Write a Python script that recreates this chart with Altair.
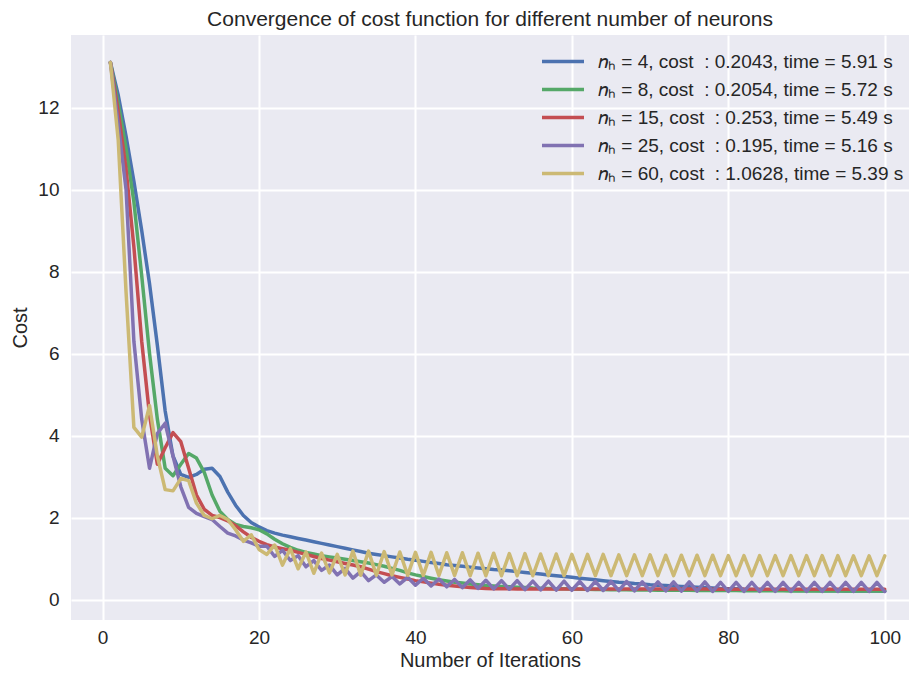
import altair as alt
import pandas as pd

iterations = list(range(1, 101))

cost_n4 = [13.1, 12.3, 11.3, 10.2, 9.0, 7.7, 6.2, 4.6, 3.5, 3.05,
           2.98, 3.05, 3.18, 3.2, 3.0, 2.62, 2.3, 2.05, 1.88, 1.77,
           1.68, 1.62, 1.57, 1.53, 1.49, 1.45, 1.41, 1.37, 1.33, 1.29,
           1.25, 1.21, 1.17, 1.13, 1.1, 1.07, 1.04, 1.01, 0.98, 0.96,
           0.93, 0.9, 0.88, 0.85, 0.83, 0.81, 0.79, 0.77, 0.75, 0.73,
           0.72, 0.7, 0.68, 0.66, 0.64, 0.62, 0.6, 0.58, 0.56, 0.54,
           0.52, 0.5, 0.48, 0.46, 0.44, 0.42, 0.41, 0.39, 0.38, 0.36,
           0.35, 0.34, 0.33, 0.32, 0.31, 0.3, 0.29, 0.28, 0.27, 0.265,
           0.26, 0.25, 0.245, 0.24, 0.235, 0.23, 0.228, 0.225, 0.222, 0.22,
           0.218, 0.216, 0.214, 0.212, 0.21, 0.209, 0.208, 0.207, 0.206, 0.2043]

cost_n8 = [13.1, 12.1, 11.0, 9.7, 7.9, 6.0, 4.4, 3.2, 3.02, 3.3,
           3.56, 3.45, 3.1, 2.55, 2.15, 1.95, 1.83, 1.78, 1.75, 1.7,
           1.6, 1.47, 1.36, 1.27, 1.2, 1.15, 1.11, 1.07, 1.04, 1.01,
           0.98, 0.95, 0.92, 0.89, 0.85, 0.81, 0.76, 0.71, 0.65, 0.6,
           0.56, 0.52, 0.48, 0.45, 0.42, 0.4, 0.38, 0.36, 0.34, 0.33,
           0.32, 0.31, 0.3, 0.29, 0.28, 0.275, 0.27, 0.265, 0.26, 0.255,
           0.25, 0.248, 0.245, 0.243, 0.24, 0.238, 0.236, 0.234, 0.232, 0.23,
           0.228, 0.226, 0.225, 0.224, 0.223, 0.222, 0.221, 0.22, 0.219, 0.218,
           0.217, 0.216, 0.215, 0.214, 0.213, 0.212, 0.211, 0.21, 0.21, 0.209,
           0.209, 0.208, 0.208, 0.207, 0.207, 0.206, 0.206, 0.206, 0.205, 0.2054]

cost_n15 = [13.1, 11.9, 10.5, 8.6, 6.3, 4.5, 3.3, 3.7, 4.07, 3.85,
            3.2, 2.55, 2.2, 2.05, 2.0, 1.92, 1.8, 1.65, 1.52, 1.42,
            1.34, 1.28, 1.24, 1.2, 1.15, 1.1, 1.05, 1.0, 0.96, 0.92,
            0.88, 0.84, 0.8, 0.74, 0.68, 0.63, 0.58, 0.54, 0.5, 0.46,
            0.43, 0.4, 0.37, 0.35, 0.33, 0.31, 0.29, 0.28, 0.27, 0.265,
            0.262, 0.26, 0.259, 0.258, 0.258, 0.257, 0.257, 0.256, 0.256, 0.256,
            0.256, 0.255, 0.255, 0.255, 0.255, 0.255, 0.255, 0.254, 0.254, 0.254,
            0.254, 0.254, 0.254, 0.254, 0.254, 0.254, 0.254, 0.253, 0.253, 0.253,
            0.253, 0.253, 0.253, 0.253, 0.253, 0.253, 0.253, 0.253, 0.253, 0.253,
            0.253, 0.253, 0.253, 0.253, 0.253, 0.253, 0.253, 0.253, 0.253, 0.253]

cost_n25 = [13.1, 11.6, 10.0, 6.3, 4.4, 3.2, 4.05, 4.3, 3.5, 2.75,
            2.25, 2.1, 2.02, 1.95, 1.78, 1.62, 1.55, 1.45, 1.38, 1.3,
            1.3, 1.05, 1.2, 0.95, 1.07, 0.8, 0.95, 0.71, 0.84, 0.6,
            0.76, 0.52, 0.68, 0.46, 0.6, 0.42, 0.56, 0.38, 0.54, 0.35,
            0.52, 0.33, 0.5, 0.31, 0.49, 0.29, 0.48, 0.27, 0.47, 0.26,
            0.46, 0.25, 0.46, 0.24, 0.45, 0.235, 0.45, 0.23, 0.45, 0.225,
            0.44, 0.22, 0.44, 0.22, 0.44, 0.215, 0.44, 0.21, 0.43, 0.21,
            0.43, 0.21, 0.43, 0.205, 0.43, 0.205, 0.43, 0.2, 0.42, 0.2,
            0.42, 0.2, 0.42, 0.2, 0.42, 0.2, 0.42, 0.198, 0.42, 0.198,
            0.42, 0.197, 0.42, 0.197, 0.42, 0.196, 0.42, 0.196, 0.42, 0.195]

cost_n60 = [13.1, 11.2, 7.5, 4.2, 3.96, 4.73, 3.5, 2.68, 2.65, 2.95,
            2.9, 2.35, 2.05, 1.97, 2.05, 1.95, 1.7, 1.42, 1.58, 1.22,
            1.1, 1.33, 0.84, 1.24, 0.75, 1.16, 0.64, 1.13, 0.65, 1.1,
            0.6, 1.18, 0.59, 1.18, 0.59, 1.17, 0.6, 1.16, 0.59, 1.15,
            0.59, 1.15, 0.59, 1.14, 0.59, 1.14, 0.58, 1.13, 0.58, 1.13,
            0.58, 1.12, 0.58, 1.12, 0.58, 1.11, 0.58, 1.11, 0.58, 1.1,
            0.58, 1.1, 0.58, 1.1, 0.58, 1.09, 0.58, 1.09, 0.58, 1.09,
            0.58, 1.08, 0.58, 1.08, 0.58, 1.08, 0.58, 1.08, 0.58, 1.07,
            0.58, 1.07, 0.58, 1.07, 0.58, 1.07, 0.58, 1.07, 0.58, 1.07,
            0.58, 1.07, 0.58, 1.07, 0.58, 1.065, 0.58, 1.065, 0.58, 1.0628]

NB = "\u00a0"
series_labels = [
    f"𝑛ₕ = 4, cost{NB} : 0.2043, time = 5.91 s",
    f"𝑛ₕ = 8, cost{NB} : 0.2054, time = 5.72 s",
    f"𝑛ₕ = 15, cost{NB} : 0.253, time = 5.49 s",
    f"𝑛ₕ = 25, cost{NB} : 0.195, time = 5.16 s",
    f"𝑛ₕ = 60, cost{NB} : 1.0628, time = 5.39 s",
]
series_colors = ["#4C72B0", "#55A868", "#C44E52", "#8172B2", "#CCB974"]
all_costs = [cost_n4, cost_n8, cost_n15, cost_n25, cost_n60]

rows = []
for lab, vals in zip(series_labels, all_costs):
    for it, v in zip(iterations, vals):
        rows.append({"iteration": it, "cost": v, "series": lab})
df = pd.DataFrame(rows)

FONT = "Liberation Sans"
TXT = "#262626"

color_scale = alt.Scale(domain=series_labels, range=series_colors)
legend = alt.Legend(
    title=None, orient="none", legendX=469, legendY=17,
    symbolType="stroke", symbolSize=1764, symbolStrokeWidth=3.5,
    labelFontSize=19, labelFont=FONT, labelColor=TXT, labelLimit=500,
    clipHeight=19, rowPadding=8.0, labelOffset=12, padding=0,
)

x_enc = alt.X("iteration:Q",
              scale=alt.Scale(domain=[-4.04, 103.1], nice=False, zero=False),
              axis=alt.Axis(values=[0, 20, 40, 60, 80, 100], title="Number of Iterations",
                            labelPadding=8, titlePadding=3))
y_enc = alt.Y("cost:Q",
              scale=alt.Scale(domain=[-0.5, 13.77], nice=False, zero=False),
              axis=alt.Axis(values=[0, 2, 4, 6, 8, 10, 12], title="Cost",
                            labelPadding=12, titlePadding=7))

layers = []
for lab in series_labels:
    layers.append(
        alt.Chart(df).transform_filter(alt.datum.series == lab)
        .mark_line(strokeWidth=3.5, strokeCap="round", strokeJoin="round")
        .encode(x=x_enc, y=y_enc,
                color=alt.Color("series:N", scale=color_scale, legend=legend))
    )

chart = alt.layer(*layers).properties(
    width=838, height=585,
    title=alt.TitleParams("Convergence of cost function for different number of neurons",
                          fontSize=21, font=FONT, fontWeight="normal", color=TXT,
                          anchor="middle", offset=5),
    autosize=alt.AutoSizeParams(type="none"),
    padding={"left": 63, "top": 27, "right": 1, "bottom": 57},
).configure(
    background="white"
).configure_view(
    fill="#EAEAF2", stroke=None
).configure_axis(
    domain=False, ticks=False, grid=True, gridColor="white", gridWidth=2,
    labelFont=FONT, labelFontSize=19, labelColor=TXT,
    titleFont=FONT, titleFontSize=20, titleFontWeight="normal", titleColor=TXT,
)

chart.save("out.html", embed_options={"renderer": "svg", "actions": False})
